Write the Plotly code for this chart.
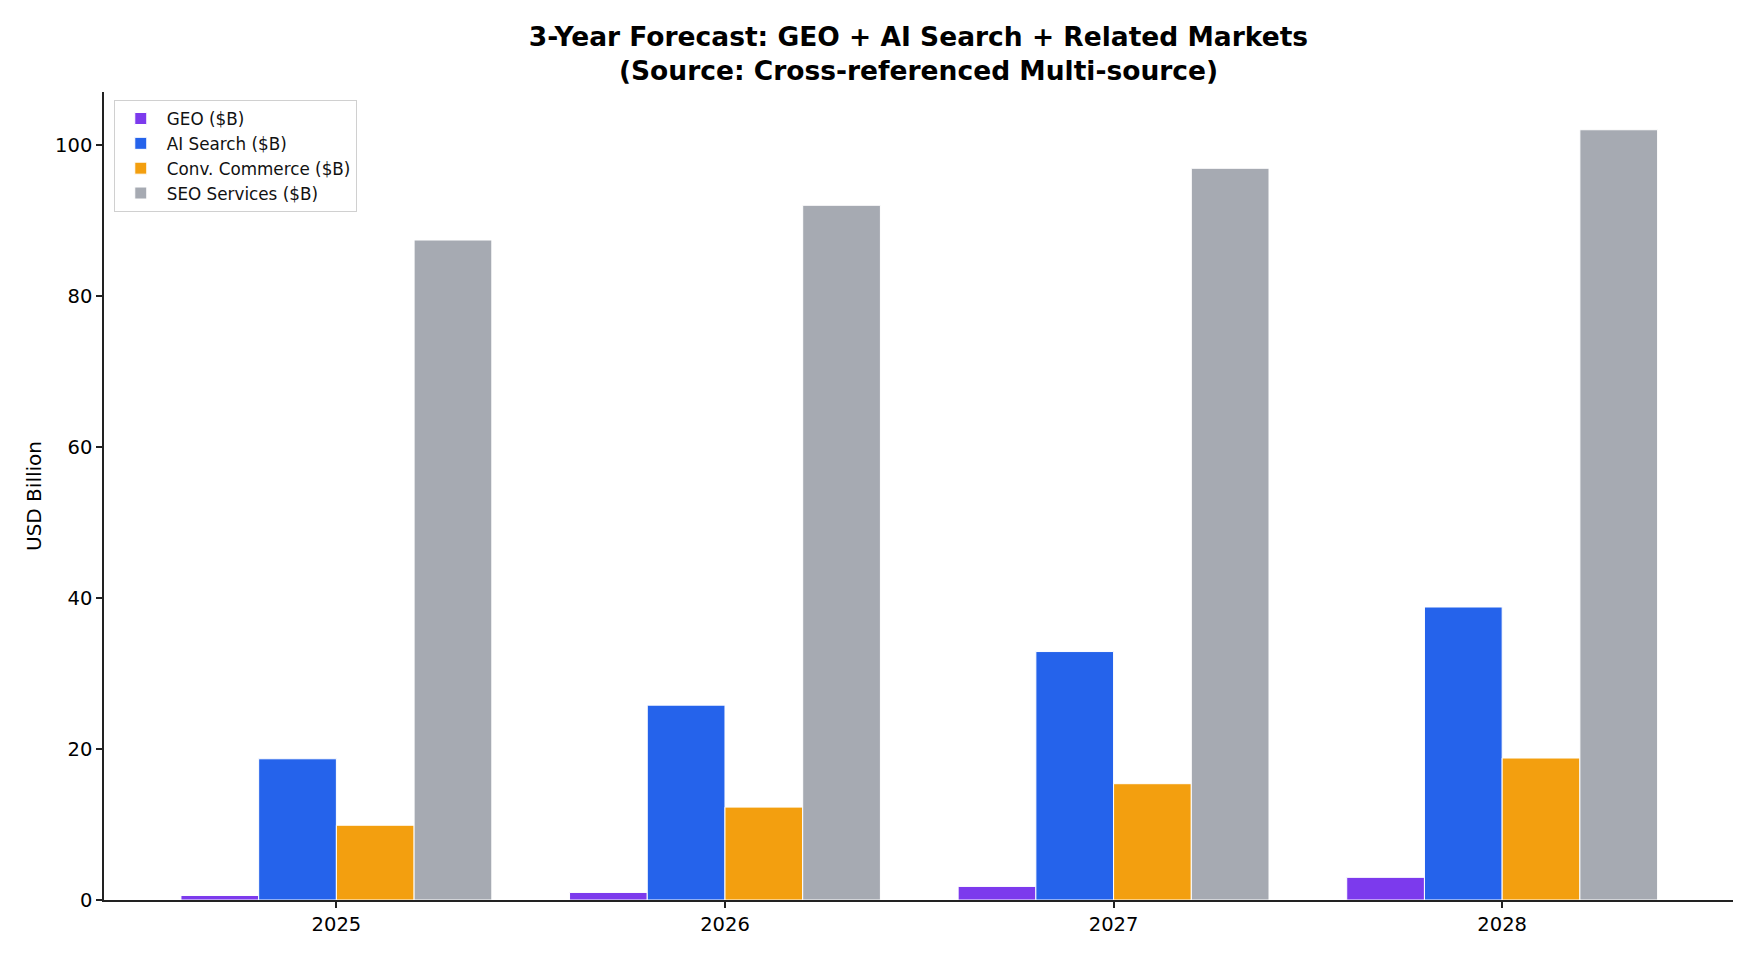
import plotly.graph_objects as go

years = ["2025", "2026", "2027", "2028"]
geo = [0.6, 1.0, 1.8, 3.0]
ai_search = [18.7, 25.8, 32.9, 38.8]
conv_commerce = [9.9, 12.3, 15.4, 18.8]
seo_services = [87.4, 92.0, 96.9, 102.0]

series = [
    ("GEO ($B)", geo, "#7c3aed"),
    ("AI Search ($B)", ai_search, "#2563eb"),
    ("Conv. Commerce ($B)", conv_commerce, "#f39f0f"),
    ("SEO Services ($B)", seo_services, "#a6aab2"),
]

fig = go.Figure()
for name, vals, color in series:
    fig.add_trace(go.Bar(
        x=years, y=vals, name=name,
        marker=dict(color=color, line=dict(color="white", width=1)),
    ))

font_family = "DejaVu Sans, Verdana, sans-serif"
fig.update_layout(
    width=1755, height=958,
    paper_bgcolor="white", plot_bgcolor="white",
    margin=dict(l=104, r=22, t=92, b=58),
    barmode="group", bargap=0.2, bargroupgap=0.0,
    font=dict(family=font_family, color="#111111", size=15),
    title=dict(
        text="<b>3-Year Forecast: GEO + AI Search + Related Markets<br>(Source: Cross-referenced Multi-source)</b>",
        x=(104 + 1733) / 2 / 1755, xanchor="center",
        y=1 - 46 / 958, yanchor="middle",
        font=dict(size=26.5, family=font_family, color="black"),
    ),
    legend=dict(
        x=0.006, y=0.99, xanchor="left", yanchor="top",
        bgcolor="rgba(255,255,255,0.8)", bordercolor="#d0d0d0", borderwidth=1,
        font=dict(size=16.8, family=font_family),
        tracegroupgap=0, itemwidth=42,
    ),
    xaxis=dict(
        type="category", range=[-0.598, 3.594],
        showline=True, linecolor="#222222", linewidth=1.5,
        ticks="outside", ticklen=6, tickwidth=1.5, tickcolor="#222222",
        showgrid=False, zeroline=False,
        tickfont=dict(size=19.5, family=font_family, color="black"),
    ),
    yaxis=dict(
        range=[0, 107], tickvals=[0, 20, 40, 60, 80, 100],
        showline=True, linecolor="#222222", linewidth=1.5,
        ticks="outside", ticklen=6, tickwidth=1.5, tickcolor="#222222",
        showgrid=False, zeroline=False,
        tickfont=dict(size=19.5, family=font_family, color="black"),
        title=dict(text="USD Billion", font=dict(size=20, family=font_family, color="black"), standoff=8),
    ),
)

fig.write_html("out.html")
